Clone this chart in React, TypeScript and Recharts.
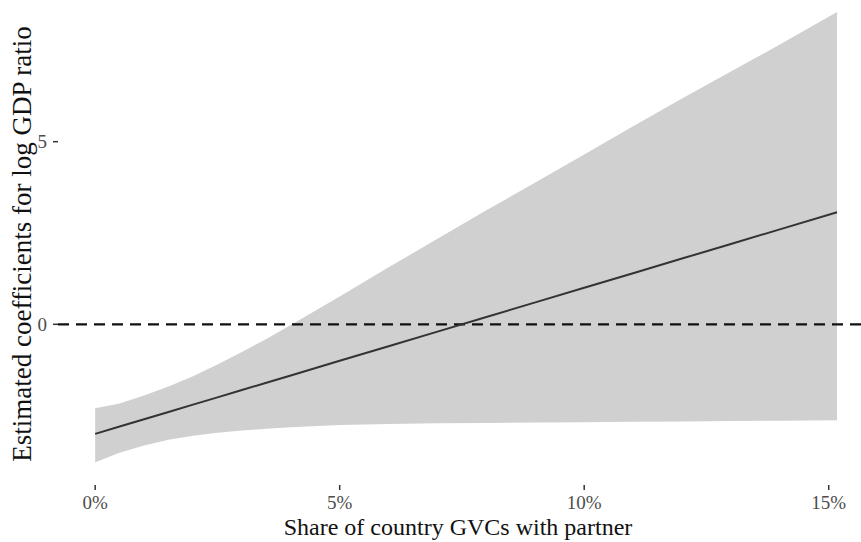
import React from "react";
import {
  ComposedChart,
  Area,
  Line,
  XAxis,
  YAxis,
  ReferenceLine,
} from "recharts";

// Share of country GVCs with partner (%)
const shares = [0, 0.5, 1, 1.5, 2, 2.5, 3, 3.5, 4, 5, 6, 7, 8, 9, 10, 11, 12, 13, 14, 15.17];
// Estimated coefficient (fitted line)
const estimate = [-3.0, -2.8, -2.6, -2.4, -2.2, -2.0, -1.8, -1.6, -1.4, -1.0, -0.6, -0.2, 0.2, 0.6, 1.0, 1.4, 1.8, 2.2, 2.6, 3.07];
// Confidence band upper bound
const upperBound = [-2.3, -2.17, -1.95, -1.7, -1.42, -1.1, -0.76, -0.4, -0.02, 0.76, 1.56, 2.34, 3.12, 3.88, 4.65, 5.42, 6.18, 6.92, 7.66, 8.55];
// Confidence band lower bound
const lowerBound = [-3.78, -3.52, -3.32, -3.16, -3.05, -2.97, -2.91, -2.86, -2.82, -2.76, -2.73, -2.71, -2.7, -2.69, -2.68, -2.67, -2.66, -2.65, -2.64, -2.63];

const xTicks = [0, 5, 10, 15];
const yTicks = [0, 5];

const data = shares.map((s, i) => ({
  share: s,
  fit: estimate[i],
  band: [lowerBound[i], upperBound[i]],
}));

const FONT = '"Liberation Serif", "Times New Roman", serif';

export default function App() {
  return (
    <div style={{ position: "absolute", left: 0, top: 0, width: 861, height: 542, background: "#fff" }}>
      <ComposedChart
        width={861}
        height={542}
        data={data}
        margin={{ top: 0, right: 0, bottom: 0, left: 0 }}
      >
        <XAxis
          dataKey="share"
          type="number"
          domain={[-0.76, 15.66]}
          allowDataOverflow
          ticks={xTicks}
          tickFormatter={(v: number) => `${v}%`}
          axisLine={false}
          tickLine={{ stroke: "#333", strokeWidth: 1.5 }}
          tickSize={5}
          tickMargin={6}
          tick={{ fill: "#4d4d4d", fontSize: 19, fontFamily: FONT }}
          height={57}
          label={() => (
            <text
              x={458}
              y={527}
              textAnchor="middle"
              dominantBaseline="central"
              fill="#111"
              fontSize={24}
              fontFamily={FONT}
            >
              Share of country GVCs with partner
            </text>
          )}
        />
        <YAxis
          type="number"
          domain={[-4.4, 8.88]}
          allowDataOverflow
          ticks={yTicks}
          axisLine={false}
          tickLine={{ stroke: "#333", strokeWidth: 1.5 }}
          tickSize={5}
          tickMargin={6}
          tick={{ fill: "#4d4d4d", fontSize: 19, fontFamily: FONT }}
          width={58}
          label={() => (
            <text
              x={22}
              y={244}
              transform="rotate(-90 22 244)"
              textAnchor="middle"
              dominantBaseline="central"
              fill="#111"
              fontSize={27}
              fontFamily={FONT}
            >
              Estimated coefficients for log GDP ratio
            </text>
          )}
        />
        <Area
          type="linear"
          dataKey="band"
          stroke="none"
          fill="#d0d0d0"
          fillOpacity={1}
          isAnimationActive={false}
          activeDot={false}
          dot={false}
        />
        <ReferenceLine y={0} stroke="#111" strokeWidth={2.3} strokeDasharray="11 7" />
        <Line
          type="linear"
          dataKey="fit"
          stroke="#333"
          strokeWidth={2}
          dot={false}
          activeDot={false}
          isAnimationActive={false}
        />
      </ComposedChart>
    </div>
  );
}
